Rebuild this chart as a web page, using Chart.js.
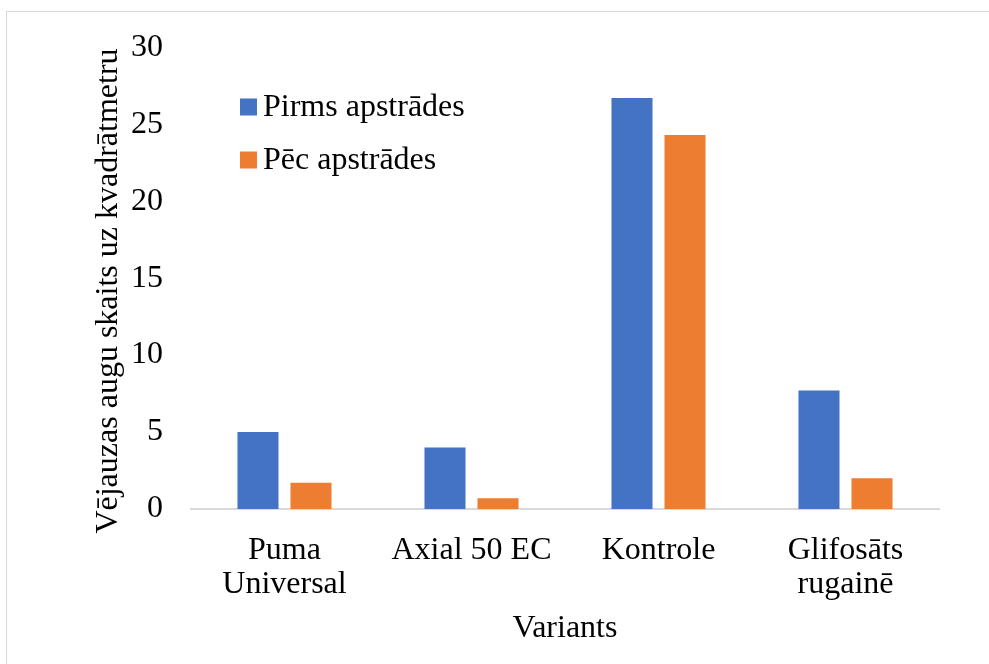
<!DOCTYPE html>
<html>
<head>
<meta charset="utf-8">
<script src="https://cdn.jsdelivr.net/npm/chart.js@4/dist/chart.umd.min.js"></script>
<style>
  html, body { margin: 0; padding: 0; background: #fff; overflow: hidden; }
  #wrap { position: relative; width: 989px; height: 664px; overflow: hidden; }
  #frame { position: absolute; left: 6px; top: 11px; width: 1000px; height: 700px; border: 1px solid #d9d9d9; box-sizing: border-box; pointer-events: none; }
  canvas { position: absolute; left: 0; top: 0; }
</style>
</head>
<body>
<div id="wrap">
  <canvas id="c" width="989" height="664"></canvas>
  <div id="frame"></div>
</div>
<script>
const categories = [["Puma", "Universal"], ["Axial 50 EC"], ["Kontrole"], ["Glifosāts", "rugainē"]];
const seriesNames = ["Pirms apstrādes", "Pēc apstrādes"];
const pirmsValues = [5.0, 4.0, 26.7, 7.7];
const pecValues = [1.7, 0.7, 24.3, 2.0];
const yTicks = [0, 5, 10, 15, 20, 25, 30];
const yTitle = "Vējauzas augu skaits uz kvadrātmetru";
const xTitle = "Variants";

const FONT = "'Liberation Serif', 'Times New Roman', serif";
const FS = 32;
const colors = ["#4472c4", "#ed7d31"];

const legendPlugin = {
  id: 'insideLegend',
  afterDraw(chart) {
    const ctx = chart.ctx;
    ctx.save();
    ctx.font = FS + "px " + FONT;
    ctx.textBaseline = "middle";
    ctx.textAlign = "left";
    const rows = [107, 160];
    chart.data.datasets.forEach((ds, i) => {
      ctx.fillStyle = ds.backgroundColor;
      ctx.fillRect(240, rows[i] - 8.5, 17, 17);
      ctx.fillStyle = "#000";
      ctx.fillText(ds.label, 263, rows[i] + 1);
    });
    // y axis title
    ctx.translate(109, 291);
    ctx.rotate(-Math.PI / 2);
    ctx.textAlign = "center";
    ctx.fillText(yTitle, 0, 0);
    ctx.restore();
  }
};

new Chart(document.getElementById('c'), {
  type: 'bar',
  data: {
    labels: categories,
    datasets: [
      { label: seriesNames[0], data: pirmsValues, backgroundColor: colors[0] },
      { label: seriesNames[1], data: pecValues, backgroundColor: colors[1] }
    ]
  },
  options: {
    responsive: false,
    animation: false,
    devicePixelRatio: 1,
    layout: { padding: { left: 10, right: 50, top: 35, bottom: 16 } },
    datasets: { bar: { categoryPercentage: 0.567, barPercentage: 0.774 } },
    plugins: { legend: { display: false }, tooltip: { enabled: false } },
    scales: {
      x: {
        grid: { display: false, drawTicks: false },
        border: { display: true, color: "#d9d9d9", width: 2 },
        ticks: { color: "#000", font: { family: FONT, size: FS, lineHeight: 1.06 }, padding: 25, maxRotation: 0, autoSkip: false },
        title: { display: true, text: xTitle, color: "#000", font: { family: FONT, size: FS }, padding: { top: 4, bottom: 0 } },
        afterFit(scale) { scale.height = 664 - 509 - 16; }
      },
      y: {
        min: 0, max: 30,
        afterBuildTicks(scale) { scale.ticks = yTicks.map(v => ({ value: v })); },
        grid: { display: false, drawTicks: false },
        border: { display: false },
        ticks: { color: "#000", font: { family: FONT, size: FS }, padding: 28 },
        afterFit(scale) { scale.width = 191 - 10; }
      }
    }
  },
  plugins: [legendPlugin]
});
</script>
</body>
</html>
